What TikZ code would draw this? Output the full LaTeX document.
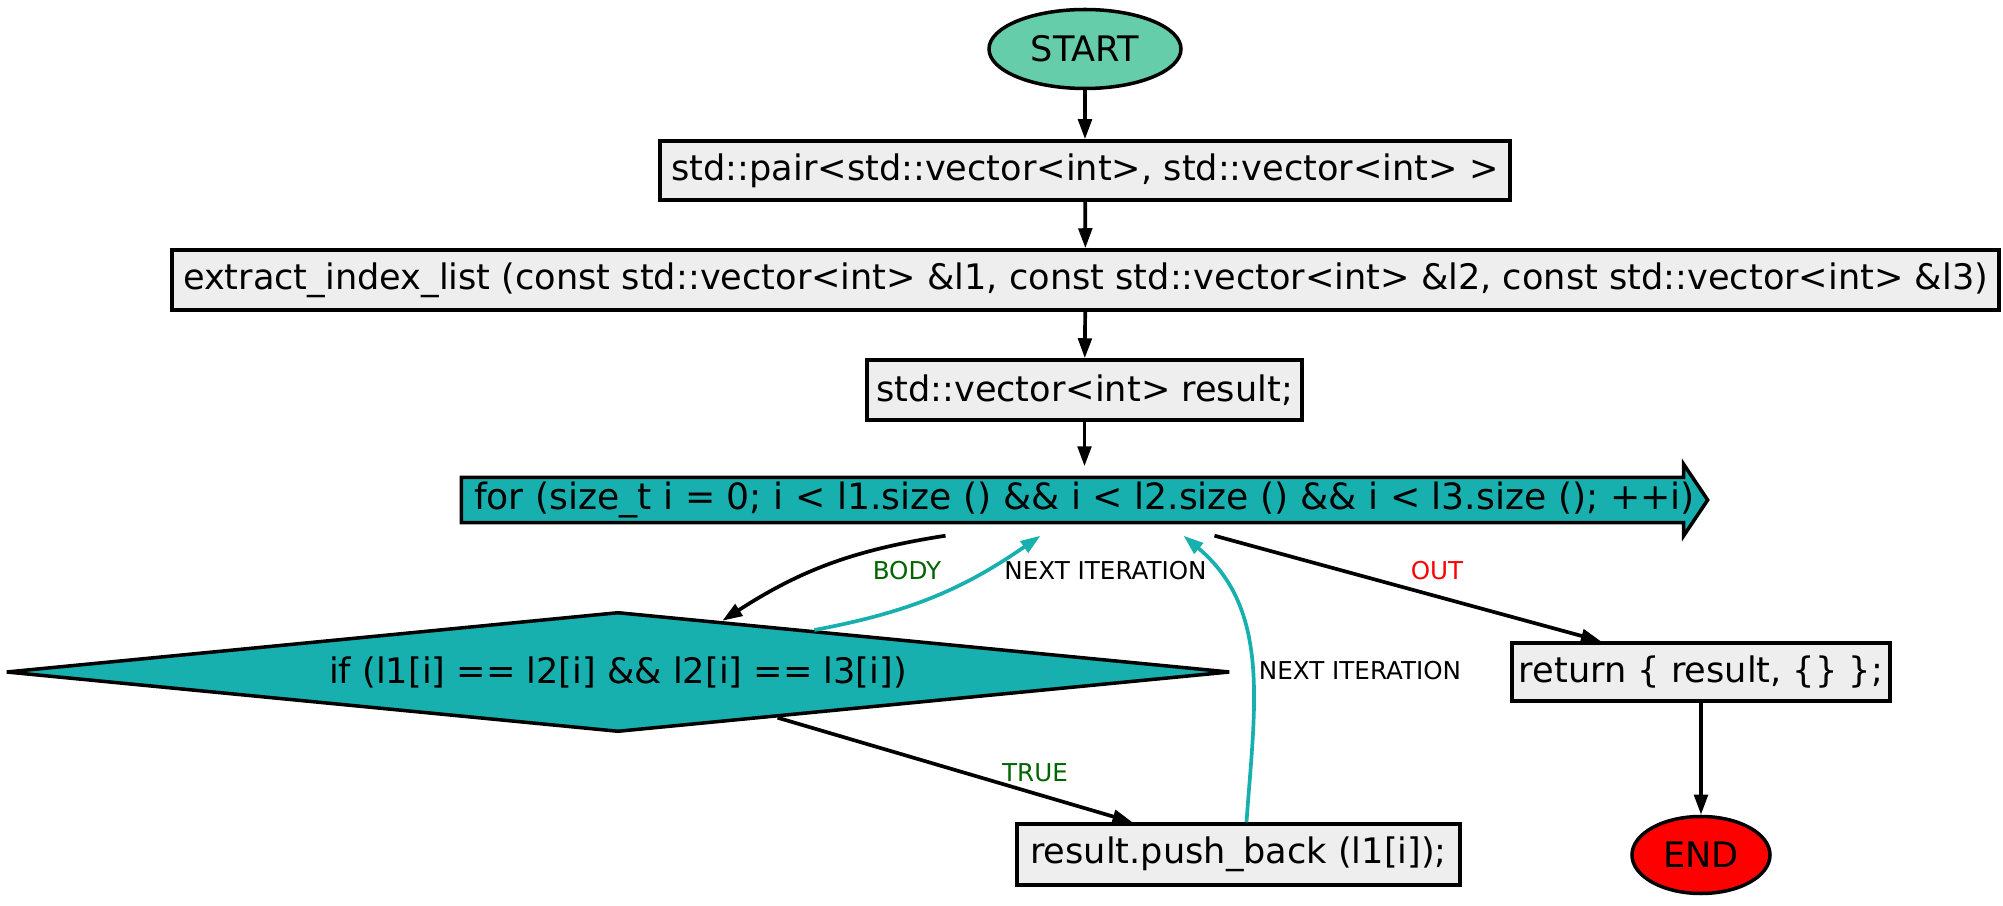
\documentclass[tikz,border=0pt]{standalone}
\usepackage{fontspec}
\setmainfont{DejaVu Sans}
\usepackage{xcolor}
\definecolor{fcteal}{RGB}{24,175,175}
\definecolor{fcaqua}{RGB}{102,205,170}
\definecolor{fcgray}{RGB}{238,238,238}
\definecolor{fcgreen}{RGB}{0,100,0}
\definecolor{fcred}{RGB}{255,0,0}
\usetikzlibrary{arrows.meta,positioning,shapes.geometric,calc,backgrounds}

\begin{document}
\begin{tikzpicture}[x=0.1mm,y=-0.1mm,
  box/.style={draw,line width=1pt,fill=fcgray,inner sep=0pt,font=\fontsize{10}{12}\selectfont},
  term/.style={draw,ellipse,line width=1pt,inner sep=0pt,font=\fontsize{10}{12}\selectfont},
  edge/.style={-{Triangle[length=2mm,width=1.35mm]},line width=1.05pt},
  back/.style={edge,fcteal},
  lbl/.style={font=\fontsize{7}{8}\selectfont}]
  \useasboundingbox (0,0) rectangle (2003,906);
  % Entry
  \node[term,fill=fcaqua,minimum width=19.2mm,minimum height=7.9mm] (start) at (1085,49) {START};
  \node[box,minimum width=85mm,minimum height=5.9mm] (pair) at (1085,170.5) {std::pair<std::vector<int>, std::vector<int> >};
  \node[box,minimum width=182.7mm,minimum height=6mm] (extract) at (1085.5,280) {extract\_index\_list (const std::vector<int> \&l1, const std::vector<int> \&l2, const std::vector<int> \&l3)};
  \node[box,minimum width=43.5mm,minimum height=6mm] (result) at (1084.5,390) {std::vector<int> result;};
  \draw[edge] (start) -- (pair);
  \draw[edge] (pair) -- (extract);
  \draw[edge] (extract) -- (result);
  % Loop
  \node[inner sep=0pt,minimum width=124.5mm,minimum height=4.4mm,font=\fontsize{10.3}{12}\selectfont] (loop) at (1084.5,500) {for (size\_t i = 0; i < l1.size () \&\& i < l2.size () \&\& i < l3.size (); ++i)};
  \begin{scope}[on background layer]
    \filldraw[fill=fcteal,line width=1pt] (loop.north west) -- ([xshift=-2.4mm]loop.north east) -- ([xshift=-2.4mm,yshift=1.3mm]loop.north east)
      -- (loop.east) -- ([xshift=-2.4mm,yshift=-1.3mm]loop.south east) -- ([xshift=-2.4mm]loop.south east) -- (loop.south west) -- cycle;
  \end{scope}
  \draw[edge] (result) -- ([yshift=1.1mm]loop.north);
  % Body
  \node[diamond,draw,line width=1pt,fill=fcteal,inner sep=0pt,aspect=10,minimum width=122.4mm,minimum height=12mm,font=\fontsize{10}{12}\selectfont] (cond) at (618,672) {if (l1[i] == l2[i] \&\& l2[i] == l3[i])};
  \node[box,minimum width=44.3mm,minimum height=6.1mm] (push) at (1238.5,854.5) {result.push\_back (l1[i]);};
  \draw[edge] ([xshift=-13.9mm,yshift=-1.3mm]loop.south) to[bend right=12] ($(cond.north)!0.17!(cond.east)$);
  \draw[back] ($(cond.north)!0.32!(cond.east)$) to[bend right=12] ([xshift=-4.4mm,yshift=-1.3mm]loop.south);
  \draw[edge] ($(cond.south)!0.26!(cond.east)$) -- ([xshift=-10.6mm]push.north);
  \draw[back] ([xshift=0.8mm]push.north) to[out=86,in=-40] ([xshift=9.9mm,yshift=-1.3mm]loop.south);
  \node[lbl,text=fcgreen] (lbody) at (907,571) {BODY};
  \node[lbl] (lnext) at (1105.5,571) {NEXT ITERATION};
  \node[lbl,text=fcgreen] (ltrue) at (1035,773) {TRUE};
  \node[lbl] (lnext2) at (1360,671) {NEXT ITERATION};
  % Exit
  \node[box,minimum width=37.8mm,minimum height=5.8mm] (ret) at (1701,672) {return \{ result, \{\} \};};
  \node[term,fill=fcred,minimum width=13.8mm,minimum height=7.7mm] (end) at (1701,855) {END};
  \draw[edge] ([xshift=13mm,yshift=-1.3mm]loop.south) -- ([xshift=-10mm]ret.north);
  \node[lbl,text=fcred] (lout) at (1437,571) {OUT};
  \draw[edge] (ret) -- (end);
\end{tikzpicture}
\end{document}
